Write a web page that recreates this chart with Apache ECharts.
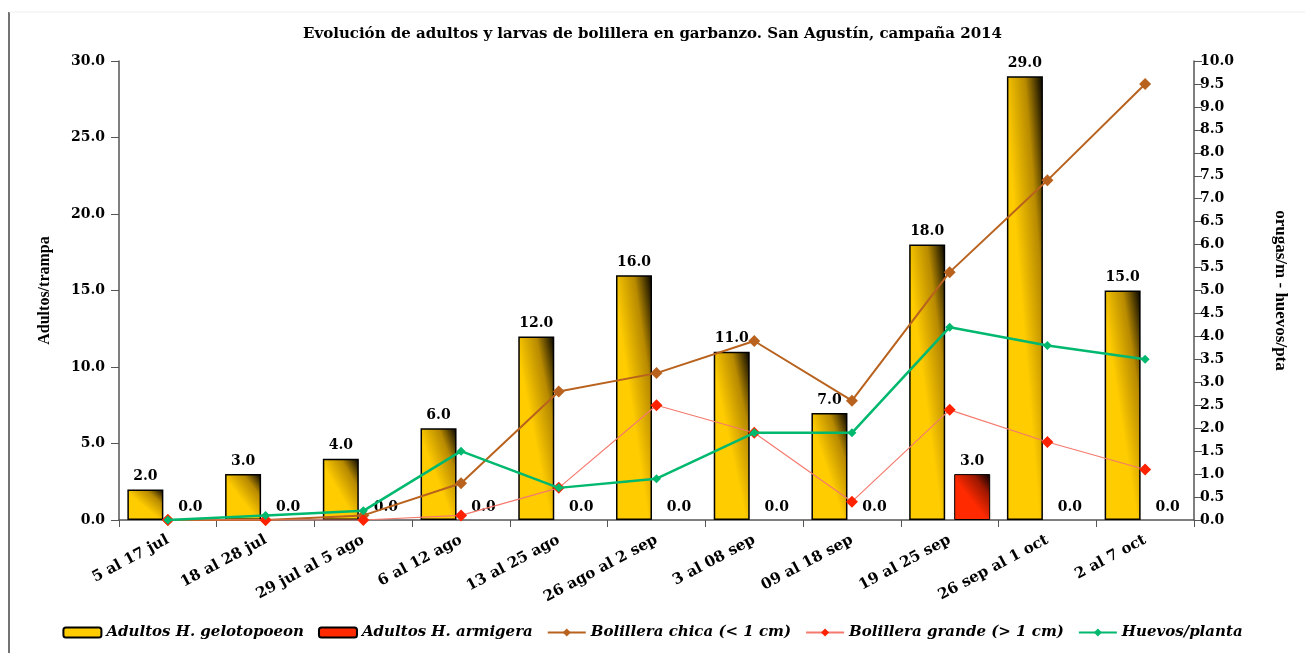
<!DOCTYPE html>
<html>
<head>
<meta charset="utf-8">
<script src="https://cdn.jsdelivr.net/npm/echarts@6/dist/echarts.min.js"></script>
<style>
  html, body { margin: 0; padding: 0; background: #fff; }
  #chart { width: 1305px; height: 653px; }
</style>
</head>
<body>
<div id="chart"></div>
<script>
// Evolución de adultos y larvas de bolillera - San Agustín 2014
const periodos = ['5 al 17 jul', '18 al 28 jul', '29 jul al 5 ago', '6 al 12 ago', '13 al 25 ago',
  '26 ago al 2 sep', '3 al 08 sep', '09 al 18 sep', '19 al 25 sep', '26 sep al 1 oct', '2 al 7 oct'];
const adultosGelotopoeon = [2, 3, 4, 6, 12, 16, 11, 7, 18, 29, 15];
const adultosArmigera = [0, 0, 0, 0, 0, 0, 0, 0, 3, 0, 0];
const bolilleraChica = [0, 0, 0.1, 0.8, 2.8, 3.2, 3.9, 2.6, 5.4, 7.4, 9.5];
const bolilleraGrande = [0, 0, 0, 0.1, 0.7, 2.5, 1.9, 0.4, 2.4, 1.7, 1.1];
const huevosPlanta = [0, 0.1, 0.2, 1.5, 0.7, 0.9, 1.9, 1.9, 4.2, 3.8, 3.5];

const SERIF_WIDE = '"DejaVu Serif", serif';
const SERIF = '"Liberation Serif", "DejaVu Serif", serif';

const PLOT_H = 459;   // alto del área de trazado (px)
const BAR_W = 36;

// degradado "diagonal" escalado con la forma (como en Excel):
// esquina inferior izquierda = color base, esquina superior derecha = negro
function barGradient(v, base, mid) {
  const h = Math.max(v / 30 * PLOT_H, 1);
  const w = BAR_W;
  const L2 = h * h + w * w;
  return new echarts.graphic.LinearGradient(0, 1, 2 * h * h / L2, 1 - 2 * w * w / L2, [
    { offset: 0, color: base },
    { offset: 0.45, color: base },
    { offset: 0.75, color: mid },
    { offset: 1, color: '#000000' }
  ]);
}

function barData(values, base, mid, border) {
  return values.map(v => ({
    value: v,
    itemStyle: { color: barGradient(v, base, mid), borderWidth: v === 0 ? 0 : border }
  }));
}

function renderChart() {
  const dom = document.getElementById('chart');
  const chart = echarts.init(dom);
  const barLabel = {
    show: true,
    position: 'top',
    distance: 6,
    color: '#000',
    fontFamily: SERIF_WIDE,
    fontWeight: 'bold',
    fontSize: 14,
    formatter: p => p.value.toFixed(1)
  };
  const option = {
    backgroundColor: '#fff',
    animation: false,
    title: {
      text: 'Evolución de adultos y larvas de bolillera en garbanzo. San Agustín, campaña 2014',
      left: 'center',
      top: 22,
      textStyle: { fontFamily: SERIF_WIDE, fontWeight: 'bold', fontSize: 15, color: '#000' }
    },
    grid: { left: 119, right: 111, top: 61, bottom: 133 },
    legend: {
      bottom: 8,
      left: 'center',
      itemGap: 14,
      itemWidth: 38,
      itemHeight: 10,
      textStyle: { fontFamily: SERIF_WIDE, fontStyle: 'italic', fontWeight: 'bold', fontSize: 15, color: '#000' },
      data: ['Adultos H. gelotopoeon', 'Adultos H. armigera', 'Bolillera chica (< 1 cm)',
        'Bolillera grande (> 1 cm)', 'Huevos/planta']
    },
    xAxis: [{
      type: 'category',
      data: periodos,
      axisLine: { lineStyle: { color: '#555', width: 1.5 } },
      axisTick: { show: true, length: 7, lineStyle: { color: '#555' } },
      axisLabel: {
        rotate: 28,
        interval: 0,
        margin: 19,
        color: '#000',
        fontFamily: SERIF_WIDE,
        fontWeight: 'bold',
        fontSize: 15
      }
    }],
    yAxis: [
      {
        type: 'value',
        name: 'Adultos/trampa',
        nameLocation: 'middle',
        nameGap: 66,
        nameTextStyle: { fontFamily: SERIF, fontWeight: 'bold', fontSize: 16, color: '#000' },
        min: 0,
        max: 30,
        interval: 5,
        axisLine: { show: true, lineStyle: { color: '#555', width: 1.5 } },
        axisTick: { show: true, length: 8, lineStyle: { color: '#555' } },
        splitLine: { show: false },
        axisLabel: {
          color: '#000', fontFamily: SERIF_WIDE, fontWeight: 'bold', fontSize: 14,
          margin: 14, formatter: v => v.toFixed(1)
        }
      },
      {
        type: 'value',
        name: 'orugas/m - huevos/pta',
        nameLocation: 'middle',
        nameRotate: -90,
        nameGap: 78,
        nameTextStyle: { fontFamily: SERIF, fontWeight: 'bold', fontSize: 17, color: '#000' },
        min: 0,
        max: 10,
        interval: 0.5,
        position: 'right',
        axisLine: { show: true, lineStyle: { color: '#555', width: 1.5 } },
        axisTick: { show: true, length: 8, lineStyle: { color: '#555' } },
        splitLine: { show: false },
        axisLabel: {
          color: '#000', fontFamily: SERIF_WIDE, fontWeight: 'bold', fontSize: 14,
          margin: 6, formatter: v => v.toFixed(1)
        }
      }
    ],
    series: [
      {
        name: 'Adultos H. gelotopoeon',
        type: 'bar',
        barWidth: BAR_W,
        barGap: '25%',
        data: barData(adultosGelotopoeon, '#FFCC00', '#B88A00', 1.5),
        color: '#FFCC00',
        itemStyle: { borderColor: '#000', borderWidth: 1.5 },
        label: barLabel,
        z: 2
      },
      {
        name: 'Adultos H. armigera',
        type: 'bar',
        barWidth: BAR_W,
        data: barData(adultosArmigera, '#FF2A00', '#A01800', 1),
        color: '#FF2A00',
        itemStyle: { borderColor: '#000', borderWidth: 1 },
        label: barLabel,
        z: 2
      },
      {
        name: 'Bolillera chica (< 1 cm)',
        type: 'line',
        yAxisIndex: 1,
        data: bolilleraChica,
        symbol: 'diamond',
        symbolSize: 12,
        color: '#B8621E',
        lineStyle: { width: 2, color: '#B8621E' },
        itemStyle: { color: '#B8621E' },
        z: 4
      },
      {
        name: 'Bolillera grande (> 1 cm)',
        type: 'line',
        yAxisIndex: 1,
        data: bolilleraGrande,
        symbol: 'diamond',
        symbolSize: 12,
        color: '#FF2200',
        lineStyle: { width: 1.2, color: '#F47A6E' },
        itemStyle: { color: '#FF2200' },
        z: 5
      },
      {
        name: 'Huevos/planta',
        type: 'line',
        yAxisIndex: 1,
        data: huevosPlanta,
        symbol: 'diamond',
        symbolSize: 9,
        color: '#00B86E',
        lineStyle: { width: 2.5, color: '#00B86E' },
        itemStyle: { color: '#00B86E' },
        z: 6
      }
    ],
    graphic: [
      { type: 'line', shape: { x1: 9, y1: 12, x2: 9, y2: 653 }, style: { stroke: '#444', lineWidth: 1.5 } },
      { type: 'line', shape: { x1: 9, y1: 12, x2: 1305, y2: 12 }, style: { stroke: '#eee', lineWidth: 1 } }
    ]
  };
  chart.setOption(option, true);
}
renderChart();
</script>
</body>
</html>
